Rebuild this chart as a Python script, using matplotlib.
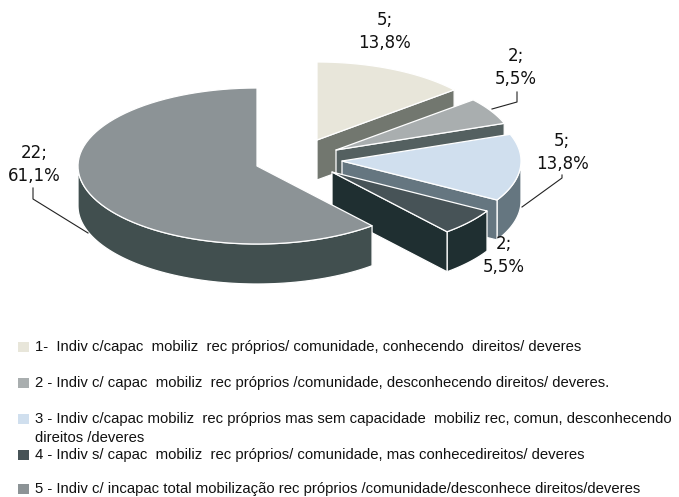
import matplotlib
matplotlib.use('Agg')
import matplotlib.pyplot as plt
from matplotlib.patches import Polygon, Rectangle
import numpy as np

# Data
values = [5, 2, 5, 2, 22]
pct_labels = ['13,8%', '5,5%', '13,8%', '5,5%', '61,1%']
legend_labels = [
    '1-  Indiv c/capac  mobiliz  rec próprios/ comunidade, conhecendo  direitos/ deveres',
    '2 - Indiv c/ capac  mobiliz  rec próprios /comunidade, desconhecendo direitos/ deveres.',
    '3 - Indiv c/capac mobiliz  rec próprios mas sem capacidade  mobiliz rec, comun, desconhecendo\ndireitos /deveres',
    '4 - Indiv s/ capac  mobiliz  rec próprios/ comunidade, mas conhecedireitos/ deveres',
    '5 - Indiv c/ incapac total mobilização rec próprios /comunidade/desconhece direitos/deveres',
]
top_colors = ['#e8e6da', '#a9aeaf', '#d0dfee', '#475357', '#8c9396']
side_colors = ['#72776f', '#546060', '#657680', '#1f2f31', '#414f4f']

# Pixel layout of the exploded slices
apex = [(317, 140), (336, 150), (342, 161), (332, 172), (257, 166)]
rx, ry, depth = 179, 78, 40
label_pos = [(385, 20, 43), (516, 56, 79), (562, 141, 164), (504, 244, 267), (34, 153, 176)]
legend_y = [347, 383, 419, 455, 489]

fig = plt.figure(figsize=(6.79, 4.97), dpi=100)
ax = fig.add_axes([0, 0, 1, 1])
ax.set_xlim(0, 679)
ax.set_ylim(497, 0)
ax.axis('off')


def rim(cx, cy, a0, a1):
    t = np.radians(np.linspace(a0, a1, 80))
    return np.column_stack([cx + rx * np.sin(t), cy - ry * np.cos(t)])


def draw_slice(i, a0, a1):
    cx, cy = apex[i]
    down = np.array([0, depth])
    style = dict(edgecolor='white', linewidth=0.9, joinstyle='round')
    arc = rim(cx, cy, a0, a1)

    # outer wall, only the part facing the viewer
    w0, w1 = max(a0, 90), min(a1, 270)
    if w1 > w0:
        wall = rim(cx, cy, w0, w1)
        ax.add_patch(Polygon(np.vstack([wall, (wall + down)[::-1]]),
                             facecolor=side_colors[i], **style))
    # radial wall on the clockwise edge
    if a1 < 270:
        c = np.array([cx, cy])
        ax.add_patch(Polygon([c, arc[-1], arc[-1] + down, c + down],
                             facecolor=side_colors[i], **style))
    ax.add_patch(Polygon(np.vstack([[cx, cy], arc]), facecolor=top_colors[i], **style))


angles = np.cumsum([0] + values) / sum(values) * 360
for i in range(len(values)):
    draw_slice(i, angles[i], angles[i + 1])

# Leader lines
ax.plot([492, 517, 517], [109, 102, 92], color='#222222', lw=0.8)
ax.plot([522, 562, 562], [207, 178, 175], color='#222222', lw=0.8)
ax.plot([88, 33, 33], [233, 199, 188], color='#222222', lw=0.8)

# Data labels
for v, p, (x, y0, y1) in zip(values, pct_labels, label_pos):
    ax.text(x, y0, f'{v};', ha='center', va='center', fontsize=12, color='#111111')
    ax.text(x, y1, p, ha='center', va='center', fontsize=12, color='#111111')

# Legend
for lab, col, y in zip(legend_labels, top_colors, legend_y):
    ax.add_patch(Rectangle((18, y - 5), 11, 10, facecolor=col, edgecolor='none'))
    ax.text(35, y - 7, lab, ha='left', va='top', fontsize=10.7, family='Liberation Sans',
            color='#111111', linespacing=1.5)

fig.savefig('out.png', dpi=100)
